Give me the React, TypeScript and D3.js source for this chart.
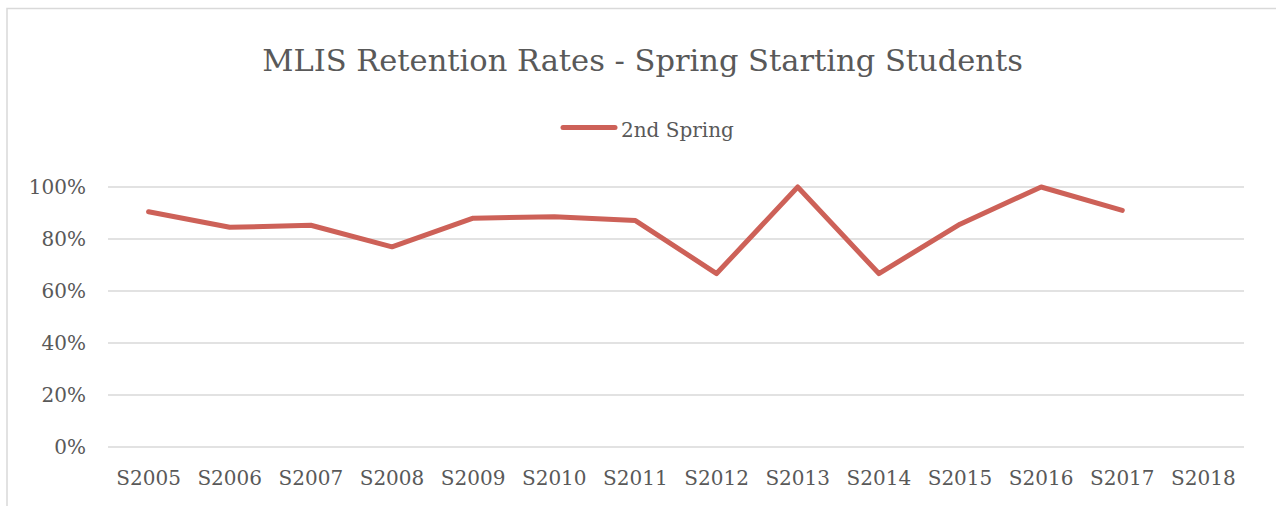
import React from "react";
import * as d3 from "d3";

const categories = ["S2005","S2006","S2007","S2008","S2009","S2010","S2011","S2012","S2013","S2014","S2015","S2016","S2017","S2018"];
const secondSpring: (number | null)[] = [0.905, 0.845, 0.853, 0.77, 0.88, 0.886, 0.871, 0.667, 1.0, 0.667, 0.857, 1.0, 0.91, null];
const yTicks = [0, 0.2, 0.4, 0.6, 0.8, 1.0];
const title = "MLIS Retention Rates - Spring Starting Students";
const seriesName = "2nd Spring";

const W = 1276, H = 506;
const FONT = "'DejaVu Serif', serif";
const TEXT = "#595959";
const LINE = "#CD6158";

export default function App() {
  const x = d3.scaleBand().domain(categories).range([108, 1244]);
  const y = d3.scaleLinear().domain([0, 1]).range([447, 187]);
  const pts = categories.map((c, i) => ({ c, v: secondSpring[i] }));
  const line = d3.line<{ c: string; v: number | null }>()
    .defined(d => d.v !== null)
    .x(d => (x(d.c) as number) + x.bandwidth() / 2)
    .y(d => y(d.v as number));
  return (
    <svg width={W} height={H} style={{ position: "absolute", left: 0, top: 0 }} fontFamily={FONT}>
      <rect x={0} y={0} width={W} height={H} fill="#fff" />
      <rect x={7} y={8.5} width={W + 20} height={H + 20} fill="#fff" stroke="#d9d9d9" strokeWidth={1.5} />
      <text x={642.5} y={71} textAnchor="middle" fontSize={30.5} fill={TEXT}>{title}</text>
      <line x1={563} x2={615} y1={127.5} y2={127.5} stroke={LINE} strokeWidth={5} strokeLinecap="round" />
      <text x={621} y={137} fontSize={20} fill={TEXT}>{seriesName}</text>
      {yTicks.map(t => (
        <g key={t}>
          <line x1={108} x2={1244} y1={y(t)} y2={y(t)} stroke="#d9d9d9" strokeWidth={1.5} />
          <text x={86} y={y(t) + 7} textAnchor="end" fontSize={20} fill={TEXT}>{d3.format(".0%")(t)}</text>
        </g>
      ))}
      {categories.map(c => (
        <text key={c} x={(x(c) as number) + x.bandwidth() / 2} y={485} textAnchor="middle" fontSize={20} fill={TEXT}>{c}</text>
      ))}
      <path d={line(pts) || ""} fill="none" stroke={LINE} strokeWidth={5} strokeLinecap="round" strokeLinejoin="round" />
    </svg>
  );
}
